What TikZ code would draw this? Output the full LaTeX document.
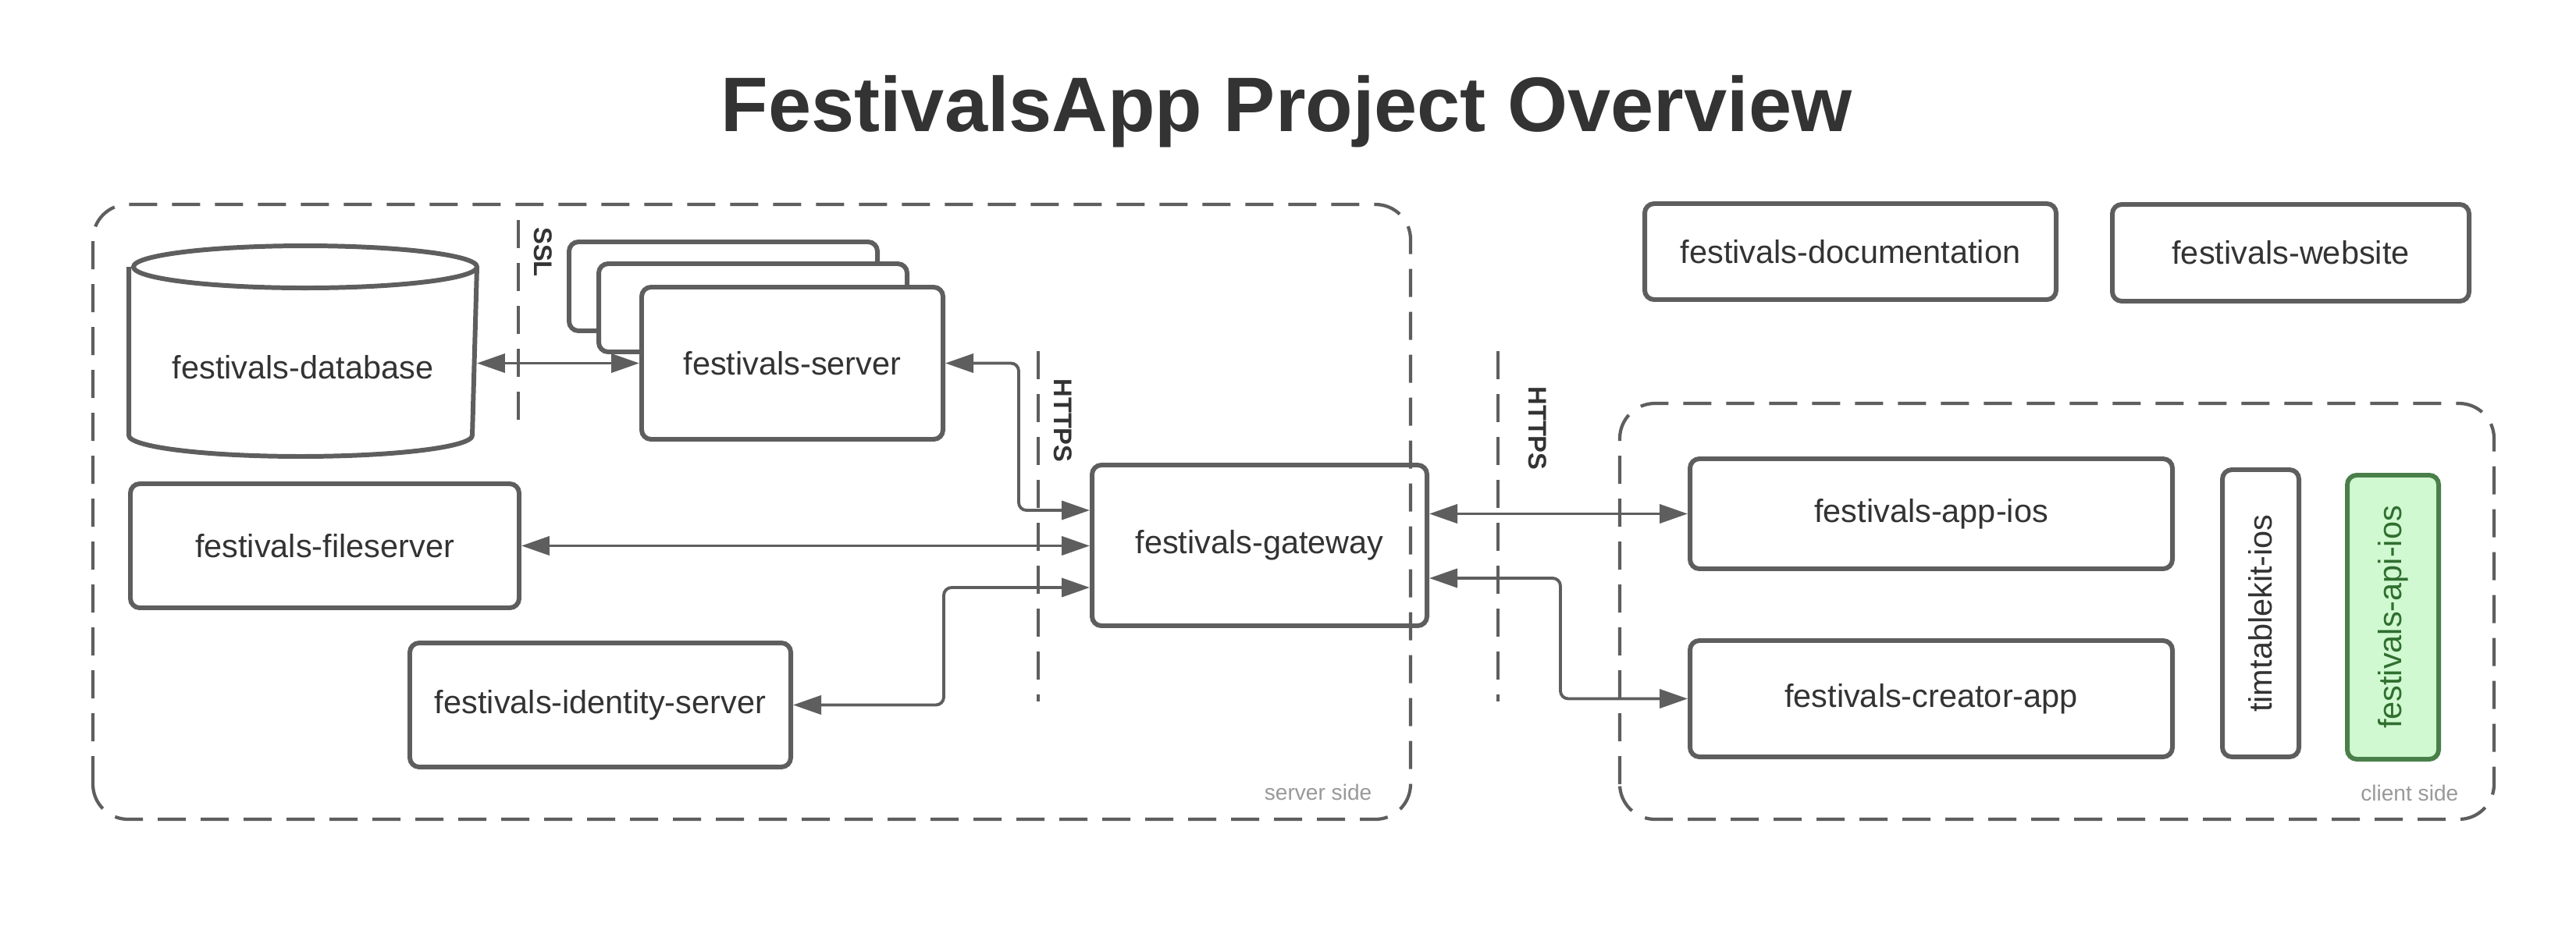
\documentclass[tikz,border=0pt]{standalone}
\usepackage{fontspec}
\setmainfont{Liberation Sans}
\usetikzlibrary{arrows.meta}
\definecolor{linegray}{HTML}{5E5E5E}
\definecolor{textgray}{HTML}{333333}
\definecolor{notegray}{HTML}{999999}
\definecolor{apifill}{HTML}{D1F9D1}
\definecolor{apiline}{HTML}{4A7F4A}
\definecolor{apitext}{HTML}{2F6E2F}

\begin{document}
\begin{tikzpicture}
    \tikzset{box/.style = {shape=rectangle,draw=linegray,line width=1.7pt,rounded corners=1.2mm,fill=white,text=textgray,inner sep=0pt,font=\fontsize{11.8}{14}\selectfont}}
    \tikzset{edge/.style = {<->,> = {Triangle[length=3.6mm,width=2.4mm]},draw=linegray,line width=1.1pt,rounded corners=1mm}}
    \tikzset{group/.style = {draw=linegray,line width=1.2pt,dash pattern=on 3.6mm off 1.9mm,rounded corners=4.5mm}}
    \tikzset{divider/.style = {draw=linegray,line width=1.2pt,dash pattern=on 3.6mm off 1.9mm}}
    \tikzset{proto/.style = {text=textgray,font=\fontsize{9.3}{11}\selectfont\bfseries,rotate=-90,inner sep=0pt}}
    \tikzset{side/.style = {text=notegray,font=\fontsize{8}{9}\selectfont,inner sep=0pt,anchor=base east}}
    \useasboundingbox (0,0) rectangle (33,12.14);
    % title
    \node[text=textgray,font=\fontsize{28.2}{34}\selectfont\bfseries,anchor=base] (title) at (16.48,10.46) {FestivalsApp Project Overview};
    % groups
    \draw[group] (1.19,1.64) rectangle (18.07,9.52);
    \draw[group] (20.75,1.64) rectangle (31.95,6.97);
    \node[side] (srvside) at (17.58,1.89) {server side};
    \node[side] (cliside) at (31.50,1.88) {client side};
    % dividers
    \draw[divider] (6.64,9.32) -- (6.64,6.58);
    \draw[divider] (13.30,7.64) -- (13.30,3.15);
    \draw[divider] (19.19,7.64) -- (19.19,3.15);
    \node[proto] (ssl) at (6.96,8.91) {SSL};
    \node[proto] (https1) at (13.62,6.75) {HTTPS};
    \node[proto] (https2) at (19.70,6.65) {HTTPS};
    % vertices
    \node[box,draw=none,fill=none,minimum width=4.4cm,minimum height=1.68cm] (db) at (3.88,7.43) {festivals-database};
    \draw[linegray,line width=1.7pt] ([yshift=4.2mm]db.north west) -- (db.south west) arc[start angle=180,end angle=360,x radius=2.2,y radius=0.27] -- ([yshift=4.2mm]db.north east) arc[start angle=0,end angle=360,x radius=2.2,y radius=0.27];
    \node[box,minimum width=3.95cm,minimum height=1.14cm] (srvc) at (9.265,8.47) {};
    \node[box,minimum width=3.95cm,minimum height=1.13cm] (srvb) at (9.645,8.195) {};
    \node[box,minimum width=3.86cm,minimum height=1.95cm] (srv) at (10.15,7.485) {festivals-server};
    \node[box,minimum width=4.98cm,minimum height=1.59cm] (fs) at (4.16,5.145) {festivals-fileserver};
    \node[box,minimum width=4.88cm,minimum height=1.59cm] (ids) at (7.69,3.105) {festivals-identity-server};
    \node[box,fill=none,minimum width=4.29cm,minimum height=2.06cm] (gw) at (16.135,5.15) {festivals-gateway};
    \node[box,minimum width=6.18cm,minimum height=1.41cm] (app) at (24.74,5.555) {festivals-app-ios};
    \node[box,minimum width=6.18cm,minimum height=1.49cm] (cre) at (24.74,3.185) {festivals-creator-app};
    \node[box,rotate=90,minimum width=3.68cm,minimum height=0.98cm] (kit) at (28.96,4.28) {timtablekit-ios};
    \node[box,rotate=90,draw=apiline,fill=apifill,text=apitext,minimum width=3.64cm,minimum height=1.17cm] (api) at (30.655,4.23) {festivals-api-ios};
    \node[box,minimum width=5.27cm,minimum height=1.23cm] (doc) at (23.705,8.915) {festivals-documentation};
    \node[box,minimum width=4.57cm,minimum height=1.24cm] (web) at (29.345,8.90) {festivals-website};
    %edges
    \draw[edge] (db.east |- srv.west) -- (srv.west);
    \draw[edge] (srv.east) -- ++(0.94,0) |- ([yshift=4.5mm]gw.west);
    \draw[edge] (fs.east) -- (gw.west |- fs.east);
    \draw[edge] (ids.east) -- ++(1.93,0) |- ([yshift=-5.4mm]gw.west);
    \draw[edge] (gw.east |- app.west) -- (app.west);
    \draw[edge] ([yshift=-4.2mm]gw.east) -- ++(1.68,0) |- (cre.west);
\end{tikzpicture}
\end{document}
